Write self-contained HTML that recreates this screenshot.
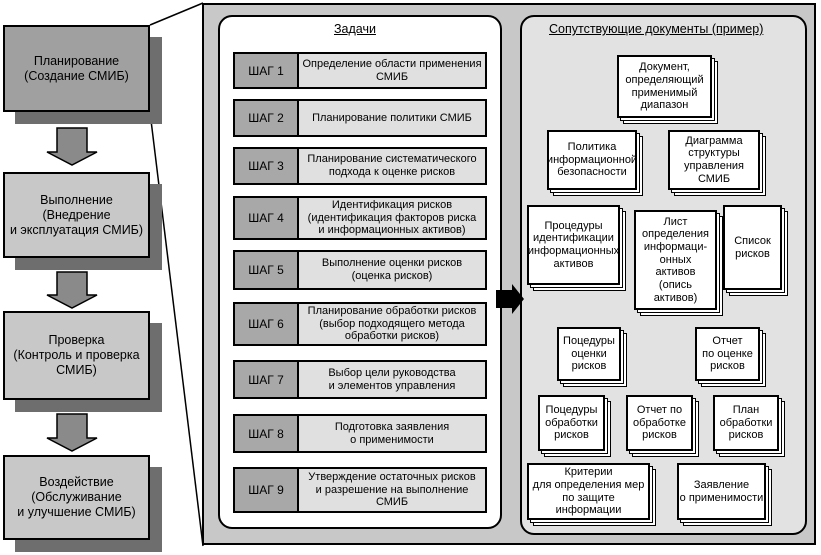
<!DOCTYPE html><html><head><meta charset="utf-8"><style>
body{margin:0;width:821px;height:555px;background:#fff;position:relative;overflow:hidden;font-family:"Liberation Sans",sans-serif;color:#000}
.a{position:absolute;box-sizing:border-box}
.c{display:flex;align-items:center;justify-content:center;text-align:center;line-height:1.2}
.st{font-size:12.5px;border:2px solid #000}
.sh{background:#6e6e6e}
.step{position:absolute;left:233px;width:254px;border:2px solid #000;box-sizing:border-box;display:flex;font-size:11px}
.step .l{width:62px;background:#a8a8a8;border-right:2px solid #000;display:flex;align-items:center;justify-content:center;font-size:12px}
.step .r{flex:1;background:#e0e0e0;display:flex;align-items:center;justify-content:center;text-align:center;line-height:1.15}
.doc{position:absolute;box-sizing:border-box;border:2px solid #000;background:#fff;font-size:11px;display:flex;align-items:center;justify-content:center;text-align:center;line-height:1.15;box-shadow:3px 3px 0 -1px #fff,3px 3px 0 0 #000,6px 6px 0 -1px #fff,6px 6px 0 0 #000}
</style></head><body>
<svg class="a" style="left:0;top:0" width="821" height="555">
<line x1="150" y1="25" x2="203" y2="3" stroke="#000" stroke-width="1.5"/>
<line x1="150" y1="112" x2="203" y2="546" stroke="#000" stroke-width="1.5"/>
<g fill="#8a8a8a" stroke="#000" stroke-width="1.5">
<polygon points="57,128 87,128 87,152 97,152 72,165 47,152 57,152"/>
<polygon points="57,272 87,272 87,295 97,295 72,308 47,295 57,295"/>
<polygon points="57,414 87,414 87,438 97,438 72,451 47,438 57,438"/>
</g>
</svg>
<div class="a" style="left:202px;top:3px;width:614px;height:542px;background:#c8c8c8;border:2px solid #000"></div>
<div class="a" style="left:218px;top:15px;width:284px;height:514px;background:#fff;border:2px solid #000;border-radius:14px"></div>
<div class="a" style="left:520px;top:15px;width:287px;height:520px;background:#e2e2e2;border:2px solid #000;border-radius:14px"></div>
<div class="a" style="left:334px;top:22px;font-size:12.5px;text-decoration:underline">Задачи</div>
<div class="a" style="left:549px;top:22px;font-size:12.5px;text-decoration:underline">Сопутствующие документы (пример)</div>
<svg class="a" style="left:494px;top:284px" width="32" height="32"><polygon points="2,6 18,6 18,0 30,15 18,30 18,24 2,24" fill="#000"/></svg>

<div class="a sh" style="left:15px;top:37px;width:147px;height:87px"></div>
<div class="a st c" style="left:3px;top:25px;width:147px;height:87px;background:#a0a0a0">Планирование<br>(Создание СМИБ)</div>
<div class="a sh" style="left:15px;top:184px;width:147px;height:86px"></div>
<div class="a st c" style="left:3px;top:172px;width:147px;height:86px;background:#c8c8c8">Выполнение<br>(Внедрение<br>и эксплуатация СМИБ)</div>
<div class="a sh" style="left:15px;top:323px;width:147px;height:89px"></div>
<div class="a st c" style="left:3px;top:311px;width:147px;height:89px;background:#c8c8c8">Проверка<br>(Контроль и проверка<br>СМИБ)</div>
<div class="a sh" style="left:15px;top:467px;width:147px;height:85px"></div>
<div class="a st c" style="left:3px;top:455px;width:147px;height:85px;background:#c8c8c8">Воздействие<br>(Обслуживание<br>и улучшение СМИБ)</div>

<div class="step" style="top:52px;height:37px"><div class="l">ШАГ 1</div><div class="r">Определение области применения<br>СМИБ</div></div>
<div class="step" style="top:99px;height:38px"><div class="l">ШАГ 2</div><div class="r">Планирование политики СМИБ</div></div>
<div class="step" style="top:147px;height:38px"><div class="l">ШАГ 3</div><div class="r">Планирование систематического<br>подхода к оценке рисков</div></div>
<div class="step" style="top:196px;height:44px"><div class="l">ШАГ 4</div><div class="r">Идентификация рисков<br>(идентификация факторов риска<br>и информационных активов)</div></div>
<div class="step" style="top:250px;height:40px"><div class="l">ШАГ 5</div><div class="r">Выполнение оценки рисков<br>(оценка рисков)</div></div>
<div class="step" style="top:302px;height:44px"><div class="l">ШАГ 6</div><div class="r">Планирование обработки рисков<br>(выбор подходящего метода<br>обработки рисков)</div></div>
<div class="step" style="top:360px;height:39px"><div class="l">ШАГ 7</div><div class="r">Выбор цели руководства<br>и элементов управления</div></div>
<div class="step" style="top:414px;height:39px"><div class="l">ШАГ 8</div><div class="r">Подготовка заявления<br>о применимости</div></div>
<div class="step" style="top:467px;height:46px"><div class="l">ШАГ 9</div><div class="r">Утверждение остаточных рисков<br>и разрешение на выполнение<br>СМИБ</div></div>

<div class="doc" style="left:617px;top:55px;width:95px;height:63px">Документ,<br>определяющий<br>применимый<br>диапазон</div>
<div class="doc" style="left:547px;top:130px;width:90px;height:60px">Политика<br>информационной<br>безопасности</div>
<div class="doc" style="left:668px;top:130px;width:92px;height:60px">Диаграмма<br>структуры<br>управления<br>СМИБ</div>
<div class="doc" style="left:527px;top:205px;width:93px;height:80px">Процедуры<br>идентификации<br>информационных<br>активов</div>
<div class="doc" style="left:634px;top:210px;width:83px;height:100px">Лист<br>определения<br>информаци-<br>онных<br>активов<br>(опись<br>активов)</div>
<div class="doc" style="left:723px;top:205px;width:59px;height:85px">Список<br>рисков</div>
<div class="doc" style="left:557px;top:327px;width:64px;height:54px">Поцедуры<br>оценки<br>рисков</div>
<div class="doc" style="left:695px;top:327px;width:65px;height:54px">Отчет<br>по оценке<br>рисков</div>
<div class="doc" style="left:538px;top:395px;width:67px;height:56px">Поцедуры<br>обработки<br>рисков</div>
<div class="doc" style="left:626px;top:395px;width:67px;height:56px">Отчет по<br>обработке<br>рисков</div>
<div class="doc" style="left:713px;top:395px;width:66px;height:56px">План<br>обработки<br>рисков</div>
<div class="doc" style="left:527px;top:463px;width:123px;height:57px">Критерии<br>для определения мер<br>по защите<br>информации</div>
<div class="doc" style="left:677px;top:463px;width:89px;height:57px">Заявление<br>о применимости</div>
</body></html>
